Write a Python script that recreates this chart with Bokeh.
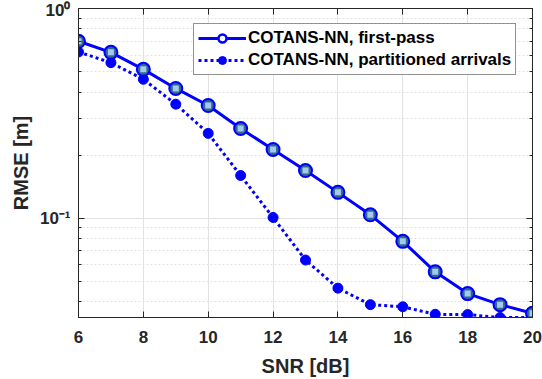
import math
from bokeh.plotting import figure
from bokeh.models import (FixedTicker, LogAxis, LinearAxis, Legend, LegendItem, Range1d)
from bokeh.embed import file_html
from bokeh.resources import INLINE

# ---- data ----
snr = [6, 7, 8, 9, 10, 11, 12, 13, 14, 15, 16, 17, 18, 19, 20]
rmse_first_pass = [0.698, 0.618, 0.513, 0.416, 0.345, 0.268, 0.213, 0.169, 0.133,
                   0.104, 0.0777, 0.0556, 0.0438, 0.0388, 0.0353]
rmse_partitioned = [0.621, 0.552, 0.460, 0.350, 0.254, 0.160, 0.101, 0.0633, 0.0465,
                    0.0388, 0.0379, 0.0349, 0.0348, 0.0337, 0.0337]
x_ticks = [6, 8, 10, 12, 14, 16, 18, 20]
y_ticks = [0.1, 1.0]
y_tick_labels = ["10\u207b\u00b9", "10\u2070"]
y_minor_ticks = [0.04, 0.05, 0.06, 0.07, 0.08, 0.09, 0.2, 0.3, 0.4, 0.5, 0.6, 0.7, 0.8, 0.9]
series_labels = ["COTANS-NN, first-pass", "COTANS-NN, partitioned arrivals"]
x_label = "SNR [dB]"
y_label = "RMSE [m]"

FONT = "Liberation Sans"
AX = "#262626"
GRID = "#e2e2e2"
BLUE = "#0000ff"

p = figure(width=542, height=379, x_range=Range1d(6, 20), y_range=Range1d(0.0337, 1.0),
           y_axis_type="log", output_backend="svg", toolbar_location=None,
           min_border_left=78, min_border_right=10, min_border_top=8, min_border_bottom=62)
p.background_fill_color = "white"
p.border_fill_color = "white"
p.outline_line_color = AX
p.outline_line_width = 1

xt = FixedTicker(ticks=x_ticks, minor_ticks=[])
yt = FixedTicker(ticks=y_ticks, minor_ticks=y_minor_ticks)

# axes
p.xaxis.ticker = xt
p.yaxis.ticker = yt
for ax in (p.xaxis[0], p.yaxis[0]):
    ax.axis_line_color = AX
    ax.major_tick_line_color = AX
    ax.minor_tick_line_color = AX
    ax.major_tick_in = 6
    ax.major_tick_out = 0
    ax.minor_tick_in = 3
    ax.minor_tick_out = 0
    ax.major_label_text_font = FONT
    ax.major_label_text_font_style = "bold"
    ax.major_label_text_font_size = "17px"
    ax.major_label_text_color = AX
    ax.axis_label_text_font = FONT
    ax.axis_label_text_font_style = "bold"
    ax.axis_label_text_font_size = "20px"
    ax.axis_label_text_color = AX
p.xaxis.major_label_standoff = 13
p.xaxis.axis_label = x_label
p.xaxis.axis_label_standoff = 9
p.yaxis.major_label_overrides = {t: s for t, s in zip(y_ticks, y_tick_labels)}
p.yaxis.major_label_standoff = 8
p.yaxis.axis_label = y_label
p.yaxis.axis_label_standoff = 5

top_ax = LinearAxis(ticker=xt, major_label_text_font_size="1px", major_label_text_alpha=0,
                    major_label_standoff=0,
                    axis_line_color=AX, major_tick_line_color=AX, major_tick_in=6, major_tick_out=0,
                    minor_tick_out=0)
right_ax = LogAxis(ticker=yt, major_label_text_font_size="1px", major_label_text_alpha=0,
                   major_label_standoff=0,
                   axis_line_color=AX, major_tick_line_color=AX, minor_tick_line_color=AX,
                   major_tick_in=6, major_tick_out=0, minor_tick_in=3, minor_tick_out=0)
p.add_layout(top_ax, "above")
p.add_layout(right_ax, "right")

# grids
p.xgrid.ticker = xt
p.ygrid.ticker = yt
p.xgrid.grid_line_color = GRID
p.ygrid.grid_line_color = GRID
p.ygrid.minor_grid_line_color = GRID
p.ygrid.minor_grid_line_dash = "2 2"

# data
p.line(snr, rmse_partitioned, line_color=BLUE, line_width=3, line_dash="3 3")
p.scatter(snr, rmse_partitioned, marker="circle", size=10, fill_color=BLUE, line_color=BLUE)
p.line(snr, rmse_first_pass, line_color=BLUE, line_width=3)
p.scatter(snr, rmse_first_pass, marker="circle", size=13, fill_color="#2d6a8c",
          line_color=BLUE, line_width=2)
p.scatter(snr, rmse_first_pass, marker="square", size=6, fill_color="#a9c6ee", line_color=None)

# legend proxies (placed outside the visible x range)
px = [-10, -9]
py = [0.5, 0.5]
l1 = p.line(px, py, line_color=BLUE, line_width=3)
m1 = p.scatter(px, py, marker="circle", size=9, fill_color="white", line_color=BLUE, line_width=2.5)
l2 = p.line(px, py, line_color=BLUE, line_width=3, line_dash="3 3")
m2 = p.scatter(px, py, marker="circle", size=10, fill_color=BLUE, line_color=BLUE)

legend = Legend(items=[LegendItem(label=series_labels[0], renderers=[l1, m1]),
                       LegendItem(label=series_labels[1], renderers=[l2, m2])],
                location=(115, 242), orientation="vertical")
legend.label_text_font = FONT
legend.label_text_font_style = "bold"
legend.label_text_font_size = "17px"
legend.label_text_color = "black"
legend.glyph_width = 48
legend.glyph_height = 20
legend.label_standoff = 2
legend.spacing = 2
legend.padding = 4
legend.margin = 0
legend.border_line_color = AX
legend.border_line_width = 1
legend.background_fill_color = "white"
legend.background_fill_alpha = 1
p.add_layout(legend, "center")

open("out.html", "w").write(file_html(p, INLINE))
